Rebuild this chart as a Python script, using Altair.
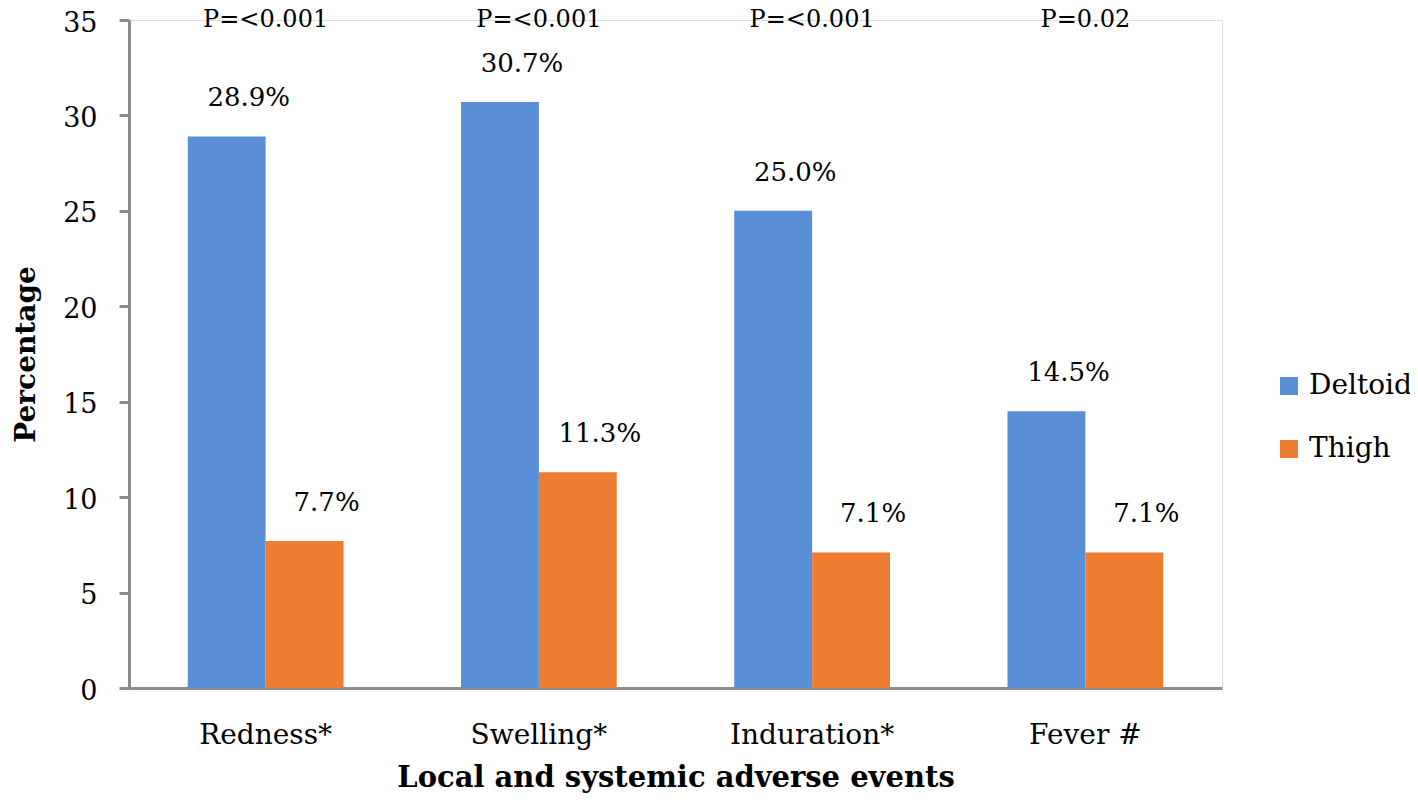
import altair as alt
import pandas as pd

categories = ["Redness*", "Swelling*", "Induration*", "Fever #"]
deltoid = [28.9, 30.7, 25.0, 14.5]
thigh = [7.7, 11.3, 7.1, 7.1]
pvalues = ["P=<0.001", "P=<0.001", "P=<0.001", "P=0.02"]
groups = ["Deltoid", "Thigh"]
colors = ["#5A8ED6", "#ED7D31"]

FONT = "DejaVu Serif"

rows = []
for c, d, t in zip(categories, deltoid, thigh):
    rows.append({"cat": c, "group": "Deltoid", "value": d, "label": f"{d:.1f}%"})
    rows.append({"cat": c, "group": "Thigh", "value": t, "label": f"{t:.1f}%"})
df = pd.DataFrame(rows)
pdf = pd.DataFrame({"cat": categories, "p": pvalues, "top": [35] * 4})

xenc = alt.X(
    "cat:N",
    sort=categories,
    scale=alt.Scale(paddingInner=0.43, paddingOuter=0.215),
    axis=alt.Axis(
        title="Local and systemic adverse events",
        labelAngle=0,
        ticks=False,
        domainColor="#8c8c8c",
        domainWidth=3,
        labelFont=FONT,
        labelFontSize=28,
        labelColor="#000000",
        labelPadding=33,
        titleFont=FONT,
        titleFontSize=29,
        titleFontWeight="bold",
        titleColor="#000000",
        titlePadding=14,
    ),
)

yscale = alt.Scale(domain=[0, 35], nice=False)

bars = alt.Chart(df).mark_bar().encode(
    x=xenc,
    xOffset=alt.XOffset("group:N", sort=groups),
    y=alt.Y(
        "value:Q",
        scale=yscale,
        axis=alt.Axis(
            title="Percentage",
            values=[0, 5, 10, 15, 20, 25, 30, 35],
            grid=False,
            domainColor="#8c8c8c",
            domainWidth=3,
            tickColor="#8c8c8c",
            tickWidth=3,
            tickSize=10,
            labelFont=FONT,
            labelFontSize=27,
            labelColor="#000000",
            labelPadding=22,
            labelOffset=3,
            titleFont=FONT,
            titleFontSize=28,
            titleFontWeight="bold",
            titleColor="#000000",
            titlePadding=22,
        ),
    ),
    color=alt.Color(
        "group:N",
        sort=groups,
        scale=alt.Scale(domain=groups, range=colors),
        legend=alt.Legend(
            title=None,
            orient="none",
            legendX=1146,
            legendY=352,
            symbolType="square",
            symbolSize=324,
            symbolStrokeWidth=0,
            labelFont=FONT,
            labelFontSize=28,
            labelColor="#000000",
            rowPadding=35,
            labelOffset=6,
        ),
    ),
)

labels = alt.Chart(df).mark_text(
    font=FONT, fontSize=26, baseline="alphabetic", dy=-30, dx=22, color="#000000"
).encode(
    x=alt.X("cat:N", sort=categories),
    xOffset=alt.XOffset("group:N", sort=groups),
    y=alt.Y("value:Q", scale=yscale),
    text="label:N",
)

ptext = alt.Chart(pdf).mark_text(
    font=FONT, fontSize=24, baseline="alphabetic", dy=7, color="#000000"
).encode(
    x=alt.X("cat:N", sort=categories),
    y=alt.Y("top:Q", scale=yscale),
    text="p:N",
)

chart = (
    alt.layer(bars, labels, ptext)
    .properties(
        width=1093,
        height=668,
        autosize=alt.AutoSizeParams(type="none"),
        padding={"left": 121, "top": 12, "right": 188, "bottom": 105},
    )
    .configure_view(strokeWidth=0, stroke="transparent")
    .configure(background="#ffffff")
)

chart.save("out.html", embed_options={"renderer": "svg", "actions": False})
